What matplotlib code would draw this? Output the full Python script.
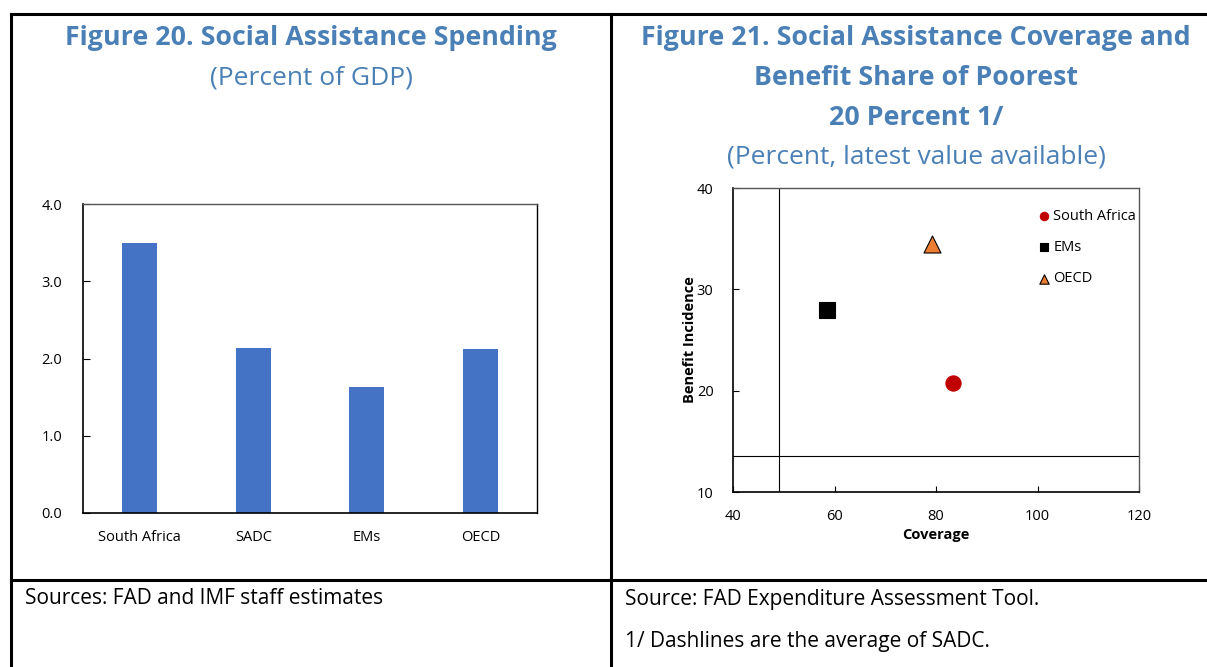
import matplotlib
matplotlib.use("Agg")
import matplotlib.pyplot as plt
from matplotlib.lines import Line2D

plt.rcParams['font.family'] = ['Open Sans', 'DejaVu Sans']

# Figure 20 data
spend_categories = ["South Africa", "SADC", "EMs", "OECD"]
spend_values = [3.5, 2.13, 1.63, 2.12]
spend_ticks = [0.0, 1.0, 2.0, 3.0, 4.0]

# Figure 21 data
scatter_names = ["South Africa", "EMs", "OECD"]
coverage = [83.3, 58.5, 79.3]
benefit_incidence = [20.8, 28.0, 34.5]
sadc_avg_coverage = 49.1
sadc_avg_incidence = 13.6
cov_ticks = [40, 60, 80, 100, 120]
inc_ticks = [10, 20, 30, 40]

W, H = 1207, 667
fig = plt.figure(figsize=(W / 100, H / 100), dpi=100)
title_color = "#4A80B5"

def fx(px):
    return px / W

def fy(py):
    return 1 - py / H

# Table frame lines
frame = dict(color="black", lw=2.2, transform=fig.transFigure, clip_on=False)
fig.add_artist(Line2D([fx(11), fx(1207)], [fy(14), fy(14)], **frame))
fig.add_artist(Line2D([fx(11), fx(1207)], [fy(580), fy(580)], **frame))
fig.add_artist(Line2D([fx(11), fx(11)], [fy(14), fy(667)], **frame))
fig.add_artist(Line2D([fx(611), fx(611)], [fy(14), fy(667)], **frame))

# Titles
fig.text(fx(311), fy(38), "Figure 20. Social Assistance Spending", ha="center", va="center",
         fontsize=19.3, fontweight="bold", color=title_color)
fig.text(fx(311), fy(78), "(Percent of GDP)", ha="center", va="center",
         fontsize=19, color=title_color)
fig.text(fx(916), fy(38), "Figure 21. Social Assistance Coverage and", ha="center", va="center",
         fontsize=19.3, fontweight="bold", color=title_color)
fig.text(fx(916), fy(78), "Benefit Share of Poorest", ha="center", va="center",
         fontsize=19.3, fontweight="bold", color=title_color)
fig.text(fx(916), fy(118), "20 Percent 1/", ha="center", va="center",
         fontsize=19.3, fontweight="bold", color=title_color)
fig.text(fx(916), fy(157), "(Percent, latest value available)", ha="center", va="center",
         fontsize=19, color=title_color)

# Sources
fig.text(fx(25), fy(599), "Sources: FAD and IMF staff estimates", ha="left", va="center", fontsize=15)
fig.text(fx(625), fy(599), "Source: FAD Expenditure Assessment Tool.", ha="left", va="center", fontsize=15)
fig.text(fx(625), fy(641), "1/ Dashlines are the average of SADC.", ha="left", va="center", fontsize=15)

# ---- Figure 20: bar chart ----
ax1 = fig.add_axes([fx(83), fy(513), fx(537 - 83), (513 - 204) / H])
x = range(len(spend_categories))
ax1.bar(x, spend_values, width=0.31, color="#4472C4")
ax1.set_xlim(-0.5, len(spend_categories) - 0.5)
ax1.set_ylim(0, 4)
ax1.set_yticks(spend_ticks)
ax1.set_yticklabels([f"{v:.1f}" for v in spend_ticks])
ax1.set_xticks(list(x))
ax1.set_xticklabels(spend_categories)
ax1.tick_params(axis="y", direction="in", length=5, width=0.8, labelsize=10.5, pad=15)
ax1.tick_params(axis="x", length=0, labelsize=10.5, pad=12)
for s in ["left", "bottom"]:
    ax1.spines[s].set_linewidth(1.2)
    ax1.spines[s].set_color("black")
ax1.spines["top"].set_linewidth(1.0)
ax1.spines["top"].set_color("#555555")
ax1.spines["right"].set_linewidth(1.0)
ax1.spines["right"].set_color("black")

# ---- Figure 21: scatter ----
ax2 = fig.add_axes([fx(733), fy(492), fx(1139 - 733), (492 - 188) / H])
ax2.axvline(sadc_avg_coverage, color="black", lw=0.8, zorder=1)
ax2.axhline(sadc_avg_incidence, color="black", lw=0.8, zorder=1)
styles = [
    dict(marker="o", color="#C00000", edgecolor="#C00000", s=120),
    dict(marker="s", color="black", edgecolor="black", s=130),
    dict(marker="^", color="#ED7D31", edgecolor="black", s=150),
]
handles = []
for name, cx, cy, st in zip(scatter_names, coverage, benefit_incidence, styles):
    h = ax2.scatter([cx], [cy], marker=st["marker"], c=st["color"], edgecolors=st["edgecolor"],
                    s=st["s"], linewidths=0.8, zorder=3, label=name)
    handles.append(h)
ax2.set_xlim(40, 120)
ax2.set_ylim(10, 40)
ax2.set_xticks(cov_ticks)
ax2.set_yticks(inc_ticks)
ax2.tick_params(axis="both", direction="in", length=4, width=0.8, labelsize=10.5)
ax2.tick_params(axis="y", pad=14)
ax2.tick_params(axis="x", pad=12)
ax2.set_xlabel("Coverage", fontsize=10.5, fontweight="bold", labelpad=3)
ax2.set_ylabel("Benefit Incidence", fontsize=10.5, fontweight="bold", labelpad=0)
for s in ["left", "bottom"]:
    ax2.spines[s].set_linewidth(1.2)
for s in ["top", "right"]:
    ax2.spines[s].set_linewidth(1.0)
    ax2.spines[s].set_color("#555555")
leg = ax2.legend(handles=handles, loc="upper right", bbox_to_anchor=(0.993, 0.932), frameon=False,
                 fontsize=10.5, handlelength=0.8, handletextpad=0.25, labelspacing=1.12,
                 markerscale=0.55, borderaxespad=0.0, borderpad=0.0)

fig.savefig("out.png", dpi=100)
